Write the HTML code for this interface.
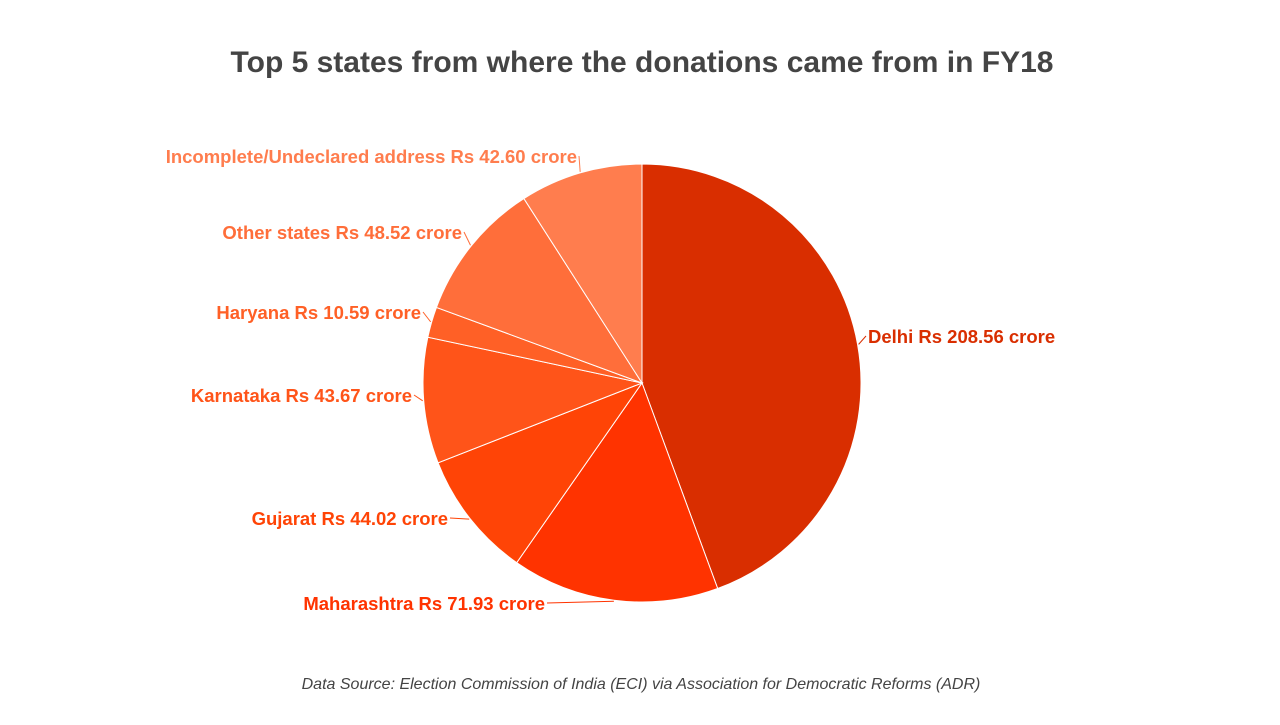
<!DOCTYPE html>
<html><head><meta charset="utf-8"><style>
body{margin:0;background:#fff;width:1280px;height:720px;overflow:hidden;font-family:"Liberation Sans",sans-serif}
</style></head><body>
<svg width="1280" height="720">
<text x="642" y="72" text-anchor="middle" font-size="30" font-weight="bold" fill="#444">Top 5 states from where the donations came from in FY18</text>
<g id="slices"></g><g id="labels"></g>
<text x="641" y="689" text-anchor="middle" font-size="16" font-style="italic" fill="#444">Data Source: Election Commission of India (ECI) via Association for Democratic Reforms (ADR)</text>
</svg>
<script>
const categories=["Delhi","Maharashtra","Gujarat","Karnataka","Haryana","Other states","Incomplete/Undeclared address"];
const values=[208.56,71.93,44.02,43.67,10.59,48.52,42.60];
const colors=["#d92e00","#ff3300","#ff4406","#ff5419","#ff6026","#ff6e3a","#ff7d4e"];
const labelPos=[[868,343,"start"],[545,610,"end"],[448,525,"end"],[412,402,"end"],[421,319,"end"],[462,239,"end"],[577,163,"end"]];
const cx=642,cy=383,r=219,ns="http://www.w3.org/2000/svg";
const total=values.reduce((a,b)=>a+b,0);
const gS=document.getElementById('slices'),gL=document.getElementById('labels');
function pt(a,rr){return [cx+rr*Math.sin(a),cy-rr*Math.cos(a)];}
let acc=0;
values.forEach((v,i)=>{
 const a0=acc/total*2*Math.PI;acc+=v;const a1=acc/total*2*Math.PI;
 const p0=pt(a0,r),p1=pt(a1,r);
 const p=document.createElementNS(ns,'path');
 p.setAttribute('d',`M${cx},${cy}L${p0[0]},${p0[1]}A${r},${r} 0 ${a1-a0>Math.PI?1:0} 1 ${p1[0]},${p1[1]}Z`);
 p.setAttribute('fill',colors[i]);p.setAttribute('stroke','#fff');p.setAttribute('stroke-width','1');
 
 
 gS.appendChild(p);
 const am=(a0+a1)/2,m=pt(am,r+1),lp=labelPos[i];
 const lx=lp[2]=="start"?lp[0]-2:lp[0]+2,ly=lp[1]-7;
 const l=document.createElementNS(ns,'polyline');
 l.setAttribute('points',`${m[0]},${m[1]} ${lx},${ly}`);
 l.setAttribute('fill','none');l.setAttribute('stroke',colors[i]);l.setAttribute('stroke-width','1');
 
 
 gL.appendChild(l);
 const t=document.createElementNS(ns,'text');
 t.setAttribute('x',lp[0]);t.setAttribute('y',lp[1]);t.setAttribute('text-anchor',lp[2]);
 t.setAttribute('font-size','18.5');t.setAttribute('font-weight','bold');t.setAttribute('fill',colors[i]);
 t.textContent=categories[i]+" Rs "+v.toFixed(2)+" crore";
 
 
 gL.appendChild(t);
});
</script>
</body></html>
